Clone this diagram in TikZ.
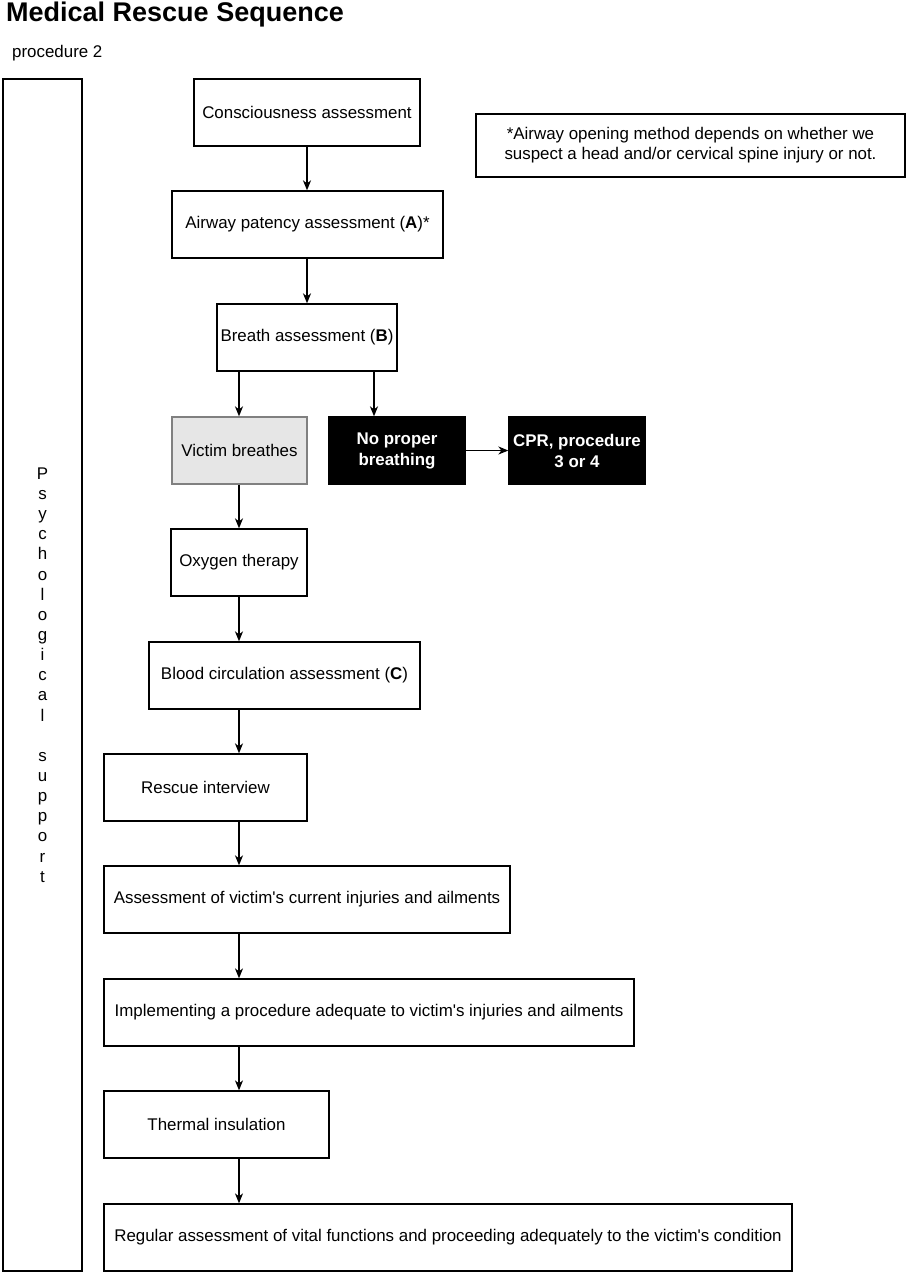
\documentclass[tikz,border=0pt]{standalone}
\usepackage{fontspec}
\setmainfont{Liberation Sans}[Ligatures=TeXOff]
\usetikzlibrary{arrows.meta,calc}
\definecolor{vicfill}{HTML}{E6E6E6}
\definecolor{vicdraw}{HTML}{808080}
\tikzset{
  box/.style={draw=black, line width=1.3pt, fill=white, inner sep=0pt, align=center,
    font=\fontsize{16.9}{20}\selectfont, minimum height=67pt},
  darkbox/.style={box, fill=black, text=white, font=\fontsize{16.9}{21}\selectfont\bfseries},
  greybox/.style={box, fill=vicfill, draw=vicdraw},
  arr/.style={line width=1.3pt, -{Stealth[length=10pt,width=8pt,inset=3pt]}},
  plain/.style={inner sep=0pt, font=\fontsize{16.9}{20}\selectfont}
}
\begin{document}
\begin{tikzpicture}[x=1pt,y=-1pt]
\useasboundingbox (0,0) rectangle (906,1274);
% title
\node[inner sep=0pt, anchor=base west, font=\fontsize{27}{30}\selectfont\bfseries] (title) at (6,21) {Medical Rescue Sequence};
\node[plain, anchor=base west] (proc) at (12,57) {procedure 2};
% psychological support column
\node[box, minimum width=79pt, minimum height=1192pt, font=\fontsize{16.9}{20.15}\selectfont] (psych) at (42.5,675)
  {P\\s\\y\\c\\h\\o\\l\\o\\g\\i\\c\\a\\l\\~\\s\\u\\p\\p\\o\\r\\t};
% boxes
\node[box, minimum width=226pt] (cons) at (307,112.5) {Consciousness assessment};
\node[box, minimum width=429pt, minimum height=63pt] (note) at (690.5,145.5)
  {*Airway opening method depends on whether we\\suspect a head and/or cervical spine injury or not.};
\node[box, minimum width=271pt] (air) at (307.5,224.5) {Airway patency assessment (\textbf{A})*};
\node[box, minimum width=180pt] (breath) at (307,337.5) {Breath assessment (\textbf{B})};
\node[greybox, minimum width=135pt] (victim) at (239.5,450.5) {Victim breathes};
\node[darkbox, minimum width=136pt] (nobr) at (397,450.5) {No proper\\breathing};
\node[darkbox, minimum width=136pt] (cpr) at (577,450.5) {CPR, procedure\\3 or 4};
\node[box, minimum width=136pt] (oxy) at (239,562.5) {Oxygen therapy};
\node[box, minimum width=271pt] (blood) at (284.5,675.5) {Blood circulation assessment (\textbf{C})};
\node[box, minimum width=203pt] (rescue) at (205.5,787.5) {Rescue interview};
\node[box, minimum width=406pt] (assess) at (307,899.5) {Assessment of victim's current injuries and ailments};
\node[box, minimum width=530pt] (impl) at (369,1012.5) {Implementing a procedure adequate to victim's injuries and ailments};
\node[box, minimum width=225pt] (thermal) at (216.5,1124.5) {Thermal insulation};
\node[box, minimum width=688pt] (regular) at (448,1237.5) {Regular assessment of vital functions and proceeding adequately to the victim's condition};
% columns for connectors
\coordinate (colA) at (307,0);
\coordinate (colB) at (239,0);
\coordinate (colC) at (374,0);
% connectors
\draw[arr] (cons.south -| colA) -- (air.north -| colA);
\draw[arr] (air.south -| colA) -- (breath.north -| colA);
\draw[arr] (breath.south -| colB) -- (victim.north -| colB);
\draw[arr] (breath.south -| colC) -- (nobr.north -| colC);
\draw[arr] (nobr.east) -- (cpr.west);
\draw[arr] (victim.south -| colB) -- (oxy.north -| colB);
\draw[arr] (oxy.south -| colB) -- (blood.north -| colB);
\draw[arr] (blood.south -| colB) -- (rescue.north -| colB);
\draw[arr] (rescue.south -| colB) -- (assess.north -| colB);
\draw[arr] (assess.south -| colB) -- (impl.north -| colB);
\draw[arr] (impl.south -| colB) -- (thermal.north -| colB);
\draw[arr] (thermal.south -| colB) -- (regular.north -| colB);
\end{tikzpicture}
\end{document}
